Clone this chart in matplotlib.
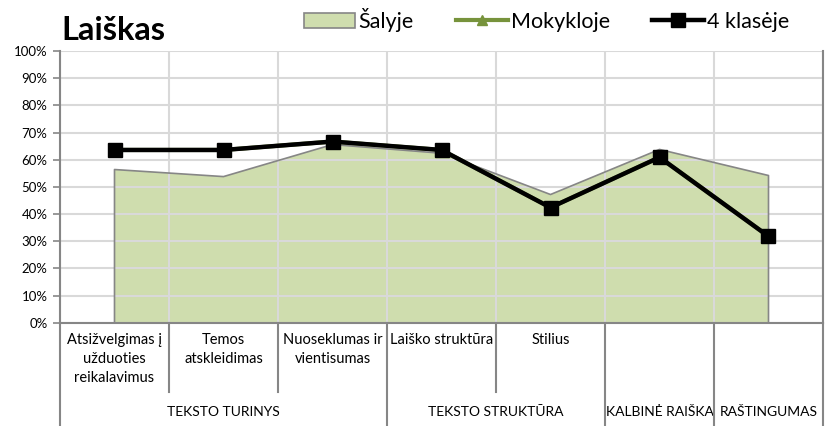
import matplotlib.pyplot as plt
import numpy as np
from matplotlib.patches import Patch
from matplotlib.lines import Line2D
import matplotlib.transforms as mtransforms

plt.rcParams["font.family"] = ["Lato", "DejaVu Sans"]

categories = [
    "Atsižvelgimas į\nužduoties\nreikalavimus",
    "Temos\natskleidimas",
    "Nuoseklumas ir\nvientisumas",
    "Laiško struktūra",
    "Stilius",
    "",
    "",
]
groups = ["TEKSTO TURINYS", "TEKSTO STRUKTŪRA", "KALBINĖ RAIŠKA", "RAŠTINGUMAS"]
group_sizes = [3, 2, 1, 1]

salyje = [56.4, 53.8, 65.6, 62.4, 47.2, 63.8, 54.2]
mokykloje = [63.6, 63.6, 66.7, 63.6, 42.4, 60.9, 31.8]
klase4 = [63.6, 63.6, 66.7, 63.6, 42.4, 60.9, 31.8]

fill_green = "#CFDDAE"
edge_grey = "#868686"
grid_grey = "#D9D9D9"

fig = plt.figure(figsize=(8.38, 4.26), dpi=100)
ax = fig.add_axes([0.0716, 0.2425, 0.9105, 0.6375])

x = np.arange(len(categories))
ax.fill_between(x, salyje, 0, facecolor=fill_green, edgecolor="none", zorder=2)
ax.plot(np.r_[x[0], x, x[-1]], np.r_[0, salyje, 0], color=edge_grey, lw=1.2, zorder=3)
ax.plot(x, mokykloje, color="#77933C", lw=3, marker="^", ms=7, zorder=4)
ax.plot(x, klase4, color="black", lw=3.2, marker="s", ms=10, zorder=5)

ax.set_xlim(-0.5, len(categories) - 0.5)
ax.set_ylim(0, 100)
ax.set_yticks(np.arange(0, 101, 10))
ax.set_yticklabels([f"{v}%" for v in range(0, 101, 10)], fontsize=9.5)
ax.set_xticks([])
ax.set_xticks(np.arange(-0.5, len(categories)), minor=True)
ax.tick_params(axis="x", which="minor", length=0)
ax.tick_params(axis="y", length=5, color=edge_grey, width=1.2, pad=4)

ax.grid(True, axis="y", color=grid_grey, lw=1.5, zorder=1)
ax.grid(True, axis="x", which="minor", color=grid_grey, lw=1.5, zorder=1)
ax.set_axisbelow(False)
for side in ["left", "right", "bottom"]:
    ax.spines[side].set_color(edge_grey)
    ax.spines[side].set_linewidth(1.5)
    ax.spines[side].set_zorder(6)
ax.spines["top"].set_visible(False)

trans = mtransforms.blended_transform_factory(ax.transData, ax.transAxes)
for i, lab in enumerate(categories):
    ax.text(i, -0.038, lab, transform=trans, ha="center", va="top",
            fontsize=10.5, linespacing=1.45)

# category separators on the multi-level axis
bounds = np.cumsum([0] + group_sizes) - 0.5
for b in np.arange(-0.5, len(categories)):
    long_line = b in bounds
    y_end = -0.375 if long_line else -0.255
    ax.plot([b, b], [0, y_end], transform=trans, color=edge_grey, lw=1.5,
            clip_on=False, zorder=6)

for g, start, end in zip(groups, bounds[:-1], bounds[1:]):
    ax.text((start + end) / 2, -0.33, g, transform=trans, ha="center",
            va="center", fontsize=10)

fig.text(0.073, 0.928, "Laiškas", fontsize=23.5, fontweight="bold", va="center")

handles = [
    Patch(facecolor=fill_green, edgecolor=edge_grey, lw=1.2),
    Line2D([], [], color="#77933C", lw=3, marker="^", ms=7),
    Line2D([], [], color="black", lw=3.2, marker="s", ms=10),
]
fig.legend(handles, ["Šalyje", "Mokykloje", "4 klasėje"], loc="center",
           bbox_to_anchor=(0.652, 0.953), ncol=3, frameon=False, fontsize=15.5,
           handlelength=2.4, handletextpad=0.15, columnspacing=1.95,
           handleheight=0.7)

fig.savefig("out.png", dpi=100)
